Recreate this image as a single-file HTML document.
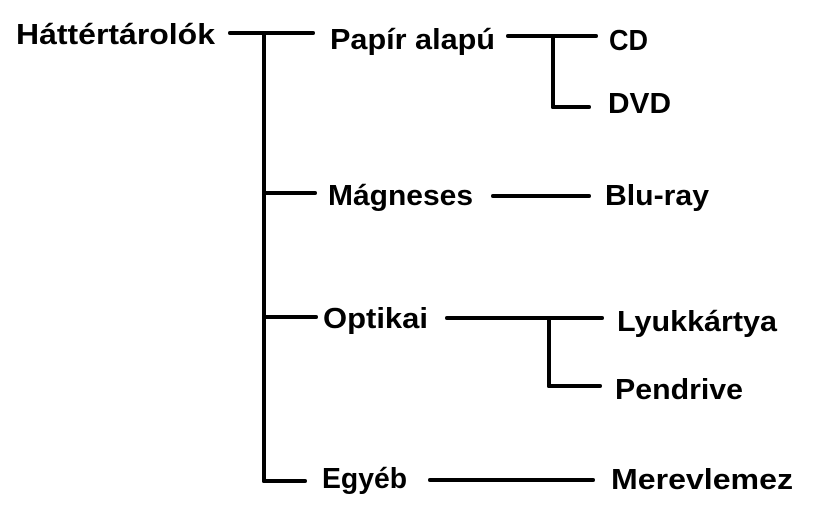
<!DOCTYPE html>
<html>
<head>
<meta charset="utf-8">
<style>
  html, body { margin:0; padding:0; background:#fff; }
  svg { display:block; }
  text { font-family: "Liberation Sans", "DejaVu Sans", sans-serif; font-weight:bold; font-size:29px; fill:#000; }
</style>
</head>
<body>
<svg width="822" height="522" viewBox="0 0 822 522" xmlns="http://www.w3.org/2000/svg">
  <rect width="822" height="522" fill="#fff"/>
  <g stroke="#000" stroke-width="4" stroke-linecap="round" fill="none">
    <line x1="230" y1="33" x2="313" y2="33"/>
    <line x1="264" y1="33" x2="264" y2="481"/>
    <line x1="264" y1="193" x2="315" y2="193"/>
    <line x1="264" y1="317" x2="316" y2="317"/>
    <line x1="264" y1="481" x2="305" y2="481"/>

    <line x1="508" y1="36" x2="596" y2="36"/>
    <line x1="553" y1="36" x2="553" y2="107"/>
    <line x1="553" y1="107" x2="589" y2="107"/>

    <line x1="493" y1="196" x2="589" y2="196"/>

    <line x1="447" y1="318" x2="602" y2="318"/>
    <line x1="549" y1="318" x2="549" y2="386"/>
    <line x1="549" y1="386" x2="600" y2="386"/>

    <line x1="430" y1="480" x2="593" y2="480"/>
  </g>
  <text x="16" y="44" textLength="199" lengthAdjust="spacingAndGlyphs">Háttértárolók</text>
  <text x="330" y="49" textLength="165" lengthAdjust="spacingAndGlyphs">Papír alapú</text>
  <text x="609" y="50" textLength="39" lengthAdjust="spacingAndGlyphs">CD</text>
  <text x="608" y="113" textLength="63" lengthAdjust="spacingAndGlyphs">DVD</text>
  <text x="328" y="205" textLength="145" lengthAdjust="spacingAndGlyphs">Mágneses</text>
  <text x="605" y="205" textLength="104" lengthAdjust="spacingAndGlyphs">Blu-ray</text>
  <text x="323" y="328" textLength="105" lengthAdjust="spacingAndGlyphs">Optikai</text>
  <text x="617" y="331" textLength="160" lengthAdjust="spacingAndGlyphs">Lyukkártya</text>
  <text x="615" y="399" textLength="128" lengthAdjust="spacingAndGlyphs">Pendrive</text>
  <text x="322" y="488" textLength="85" lengthAdjust="spacingAndGlyphs">Egyéb</text>
  <text x="611" y="489" textLength="182" lengthAdjust="spacingAndGlyphs">Merevlemez</text>
</svg>
</body>
</html>
